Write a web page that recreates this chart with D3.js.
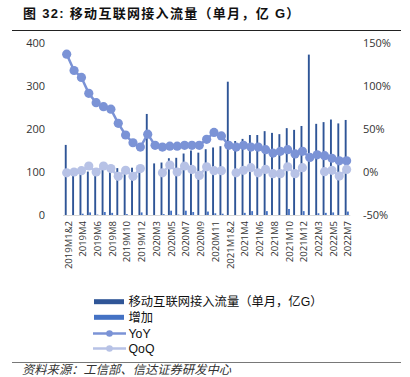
<!DOCTYPE html>
<html><head><meta charset="utf-8">
<script src="https://cdn.jsdelivr.net/npm/d3@7"></script>
<style>
html,body{margin:0;padding:0;background:#fff;}
svg{display:block;}
</style></head>
<body>
<svg id="c" width="410" height="377"></svg>
<script>
const categories = ["2019M1&2","2019M3","2019M4","2019M5","2019M6","2019M7","2019M8","2019M9","2019M10","2019M11","2019M12",
"2020M1&2","2020M3","2020M4","2020M5","2020M6","2020M7","2020M8","2020M9","2020M10","2020M11","2020M12",
"2021M1&2","2021M3","2021M4","2021M5","2021M6","2021M7","2021M8","2021M9","2021M10","2021M11","2021M12",
"2022M1&2","2022M3","2022M4","2022M5","2022M6","2022M7"];
const traffic = [163,92,95,101,102,109,114,109,111,110,116,
235,120,122,132,133,143,150,145,153,157,160,
310,172,177,186,186,195,191,188,202,198,207,
373,212,216,222,213,221];
const increase = [null,null,3,6,1,7,5,null,2,null,6,
null,null,2,10,1,10,7,null,8,4,3,
null,null,5,9,null,9,null,null,14,null,9,
null,4,5,6,null,8];
const yoy = [137,118,110,91.5,80.6,76,73,56.6,43,34,29,
44,31,29,30,30,31,31,31,38,46,42,
31,29,31,29,29,26,22,24,26,21,24,
17,20,19,16,13,13];
const qoq = [-1,0,1.5,7,0,7,4,-5,2,-5,4,
null,null,-1,8,0,7,3,-4,6,1.5,1.5,
null,-1,2,5,-1,3,-2,-2,6,-2,5,
null,null,0.4,2,-4.7,3];
const leftTicks = [0,100,200,300,400];
const rightTicks = [-50,0,50,100,150];
const seriesNames = ["移动互联网接入流量（单月，亿G）","增加","YoY","QoQ"];
const titleText = "图 32: 移动互联网接入流量（单月，亿 G）";
const sourceText = "资料来源：工信部、信达证券研发中心";

const C = {bar:"#2F5597", inc:"#4472C4", yoy:"#7B93D6", qoq:"#B7C2E6"};
const cjk = "'Noto Sans CJK SC', sans-serif";
const num = "'Open Sans', 'Noto Sans', sans-serif";
const lat = "'Liberation Sans', Arial, sans-serif";
const latcjk = "'Liberation Sans', 'Noto Sans CJK SC', sans-serif";

const svg = d3.select("#c");
const x = d3.scaleBand().domain(categories).range([63, 350.3]).padding(0);
const y = d3.scaleLinear().domain([0,400]).range([215,43]);
const y2 = d3.scaleLinear().domain([-50,150]).range([215,43]);
const cx = d => x(d) + x.bandwidth()/2;

// title
svg.append("text").attr("x",23).attr("y",18).attr("font-family",latcjk)
  .attr("font-weight","bold").attr("font-size",13).attr("letter-spacing",1.3).attr("fill","#111").text(titleText);
svg.append("line").attr("x1",12).attr("x2",401).attr("y1",30.5).attr("y2",30.5).attr("stroke","#222").attr("stroke-width",1);

// axes labels
const gl = svg.append("g").attr("transform","translate(45,0)")
  .call(d3.axisLeft(y).tickValues(leftTicks).tickSize(0).tickPadding(0));
gl.select(".domain").remove();
gl.selectAll("text").attr("font-family",num).attr("font-size",11).attr("fill","#333");

const gr = svg.append("g").attr("transform","translate(363,0)")
  .call(d3.axisRight(y2).tickValues(rightTicks).tickSize(0).tickPadding(0).tickFormat(d=>d+"%"));
gr.select(".domain").remove();
gr.selectAll("text").attr("font-family",num).attr("font-size",11).attr("fill","#333");

// baseline
svg.append("line").attr("x1",63).attr("x2",350.3).attr("y1",215.5).attr("y2",215.5).attr("stroke","#d9d9d9").attr("stroke-width",1);

// bars
svg.append("g").selectAll("rect").data(categories).join("rect")
  .attr("x",(d)=>cx(d)-1.9).attr("width",1.9)
  .attr("y",(d,i)=>y(traffic[i])).attr("height",(d,i)=>y(0)-y(traffic[i]))
  .attr("fill",C.bar);
svg.append("g").selectAll("rect").data(categories.filter((d,i)=>increase[i]!=null)).join("rect")
  .attr("x",(d)=>cx(d)+0.4).attr("width",1.8)
  .attr("y",(d)=>y(increase[categories.indexOf(d)]))
  .attr("height",(d)=>y(0)-y(increase[categories.indexOf(d)]))
  .attr("fill",C.inc);

// x labels
const gx = svg.append("g")
  .call(d3.axisBottom(x).tickValues(categories.filter((d,i)=>i%2===0)).tickSize(0).tickPadding(0));
gx.select(".domain").remove();
gx.selectAll("text").attr("font-family",num).attr("font-size",9.5).attr("fill","#333")
  .attr("transform","rotate(-90)").attr("text-anchor","end").attr("x",0).attr("y",0).attr("dx",0).attr("dy","0.35em");
gx.selectAll(".tick").attr("transform",d=>`translate(${cx(d)+1.5},221)`);

// lines
const lineYoy = d3.line().x((d,i)=>cx(categories[i])).y(d=>y2(d));
svg.append("path").datum(yoy).attr("d",lineYoy).attr("fill","none").attr("stroke",C.yoy).attr("stroke-width",2.5);
svg.append("g").selectAll("circle").data(yoy).join("circle")
  .attr("cx",(d,i)=>cx(categories[i])).attr("cy",d=>y2(d)).attr("r",4.6).attr("fill",C.yoy);

const lineQoq = d3.line().defined(d=>d!=null).x((d,i)=>cx(categories[i])).y(d=>y2(d));
svg.append("path").datum(qoq).attr("d",lineQoq).attr("fill","none").attr("stroke",C.qoq).attr("stroke-width",2.5);
svg.append("g").selectAll("circle").data(qoq.map((v,i)=>[v,i]).filter(p=>p[0]!=null)).join("circle")
  .attr("cx",p=>cx(categories[p[1]])).attr("cy",p=>y2(p[0])).attr("r",4.6).attr("fill",C.qoq);

// legend
const lg = svg.append("g");
const rows = [301.7,317.3,333.5,348.5];
lg.append("rect").attr("x",94).attr("y",rows[0]-2.5).attr("width",30).attr("height",5).attr("fill",C.bar);
lg.append("rect").attr("x",94).attr("y",rows[1]-2.5).attr("width",30).attr("height",5).attr("fill",C.inc);
lg.append("line").attr("x1",93).attr("x2",126).attr("y1",rows[2]).attr("y2",rows[2]).attr("stroke",C.yoy).attr("stroke-width",2.5);
lg.append("circle").attr("cx",109.5).attr("cy",rows[2]).attr("r",3.3).attr("fill",C.yoy);
lg.append("line").attr("x1",93).attr("x2",126).attr("y1",rows[3]).attr("y2",rows[3]).attr("stroke",C.qoq).attr("stroke-width",2.5);
lg.append("circle").attr("cx",109.5).attr("cy",rows[3]).attr("r",3.3).attr("fill",C.qoq);
seriesNames.forEach((n,i)=>{
  lg.append("text").attr("x",128.5).attr("y",rows[i]).attr("dy","0.36em")
    .attr("font-family",latcjk).attr("font-size",12.3).attr("fill","#111").text(n);
});

// footer
svg.append("line").attr("x1",12).attr("x2",401).attr("y1",362.5).attr("y2",362.5).attr("stroke","#555").attr("stroke-width",0.8);
svg.append("text").attr("x",22).attr("y",373.5).attr("font-family",latcjk).attr("font-style","italic")
  .attr("font-size",12.3).attr("fill","#333").text(sourceText);
</script>
</body></html>
